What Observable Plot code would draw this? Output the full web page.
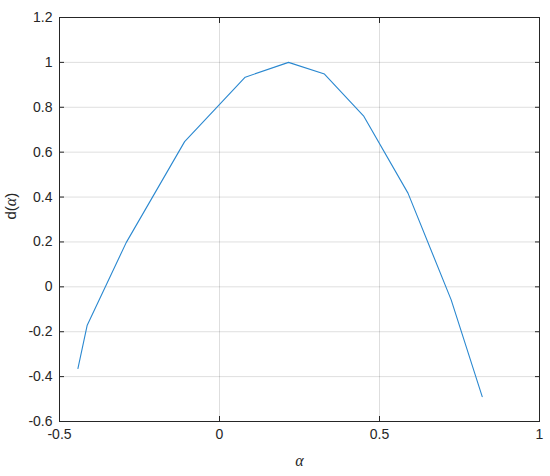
<!DOCTYPE html>
<html><head><meta charset="utf-8">
<script src="https://cdn.jsdelivr.net/npm/d3@7"></script>
<script src="https://cdn.jsdelivr.net/npm/@observablehq/plot@0.6"></script>
<style>body{margin:0;background:#fff}</style>
</head><body><div id="chart"></div>
<script>
const alphaValues = [-0.4425, -0.4134, -0.2916, -0.109, 0.0803, 0.2157, 0.328, 0.45, 0.589, 0.724, 0.821];
const dValues = [-0.364, -0.171, 0.197, 0.647, 0.934, 1.0, 0.948, 0.762, 0.4175, -0.058, -0.489];
const xTicks = [-0.5, 0, 0.5, 1];
const yTicks = [-0.6, -0.4, -0.2, 0, 0.2, 0.4, 0.6, 0.8, 1, 1.2];
const xLabel = "α";
const yLabel = "d(α)";

const data = alphaValues.map((a, i) => ({a, d: dValues[i]}));
const fmt = d => String(d);
const axisColor = "#262626";
const font = "'Liberation Sans', Arial, Helvetica, sans-serif";
const serif = "'Liberation Serif', 'DejaVu Serif', serif";

const chart = Plot.plot({
  width: 550,
  height: 476,
  marginLeft: 59,
  marginTop: 17,
  marginRight: 11,
  marginBottom: 55,
  style: {fontFamily: font, fontSize: "14px", color: axisColor, background: "#fff"},
  x: {domain: [-0.5, 1]},
  y: {domain: [-0.6, 1.2]},
  marks: [
    Plot.gridX(xTicks, {stroke: "#000", strokeOpacity: 0.13}),
    Plot.gridY(yTicks, {stroke: "#000", strokeOpacity: 0.13}),
    Plot.axisX(xTicks, {anchor: "bottom", tickSize: 0, tickPadding: 8, tickFormat: fmt, label: null, fill: axisColor, fontSize: 14}),
    Plot.axisY(yTicks, {anchor: "left", tickSize: 0, tickPadding: 7, tickFormat: fmt, label: null, fill: axisColor, fontSize: 14}),
    Plot.axisX(xTicks, {anchor: "bottom", tickSize: -5, tickFormat: () => "", label: null, stroke: axisColor}),
    Plot.axisX(xTicks, {anchor: "top", tickSize: -5, tickFormat: () => "", label: null, stroke: axisColor}),
    Plot.axisY(yTicks, {anchor: "left", tickSize: -5, tickFormat: () => "", label: null, stroke: axisColor}),
    Plot.axisY(yTicks, {anchor: "right", tickSize: -5, tickFormat: () => "", label: null, stroke: axisColor}),
    Plot.frame({stroke: axisColor, strokeWidth: 1}),
    Plot.line(data, {x: "a", y: "d", stroke: "#2a88d0", strokeWidth: 1.1}),
    Plot.text([xLabel], {text: d => d, frameAnchor: "bottom", dy: 44, fontFamily: serif, fontStyle: "italic", fontSize: 16, fill: axisColor}),
    Plot.text([yLabel], {text: d => d, frameAnchor: "left", dx: -48, rotate: -90, fontFamily: font, fontSize: 15, fill: axisColor})
  ]
});
// mixed fonts in y label: "d(" and ")" sans, α serif italic
d3.select(chart).selectAll("text").filter(function () { return this.textContent === yLabel; })
  .each(function () {
    const t = d3.select(this);
    t.text(null);
    t.append("tspan").text("d(");
    t.append("tspan").attr("font-family", serif).attr("font-style", "italic").attr("font-size", 16).text("α");
    t.append("tspan").text(")");
  });
document.getElementById("chart").append(chart);
</script>
</body></html>
